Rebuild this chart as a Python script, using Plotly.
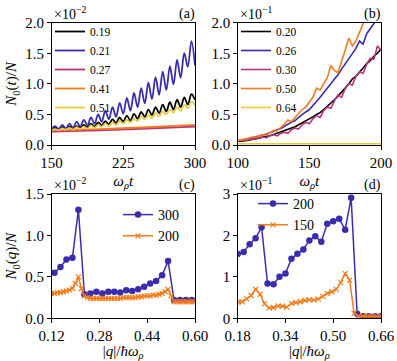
import plotly.graph_objects as go
from plotly.subplots import make_subplots

# ---- panel (a): N0(t)/N  (x1e-2), half-period samples ----
t_a = [150, 153.75, 157.5, 161.25, 165, 168.75, 172.5, 176.25, 180, 183.75,
       187.5, 191.25, 195, 198.75, 202.5, 206.25, 210, 213.75, 217.5, 221.25,
       225, 228.75, 232.5, 236.25, 240, 243.75, 247.5, 251.25, 255, 258.75,
       262.5, 266.25, 270, 273.75, 277.5, 281.25, 285, 288.75, 292.5, 296.25, 300]
a_019 = [0.26, 0.28, 0.26, 0.29, 0.27, 0.30, 0.27, 0.31, 0.28, 0.33,
         0.29, 0.35, 0.30, 0.37, 0.32, 0.39, 0.34, 0.42, 0.36, 0.45,
         0.38, 0.48, 0.40, 0.51, 0.43, 0.54, 0.46, 0.58, 0.49, 0.62,
         0.52, 0.66, 0.55, 0.70, 0.58, 0.74, 0.62, 0.78, 0.66, 0.83, 0.74]
a_021 = [0.27, 0.31, 0.26, 0.33, 0.27, 0.35, 0.28, 0.38, 0.30, 0.41,
         0.32, 0.45, 0.35, 0.50, 0.38, 0.56, 0.42, 0.62, 0.46, 0.69,
         0.51, 0.77, 0.56, 0.85, 0.62, 0.93, 0.68, 1.02, 0.75, 1.11,
         0.82, 1.20, 0.90, 1.29, 0.99, 1.39, 1.10, 1.50, 1.28, 1.70, 1.30]
a_051 = [0.24, 0.26, 0.24, 0.27, 0.25, 0.28, 0.25, 0.29, 0.26, 0.30,
         0.27, 0.32, 0.28, 0.33, 0.30, 0.35, 0.31, 0.37, 0.33, 0.39,
         0.35, 0.41, 0.37, 0.43, 0.39, 0.46, 0.42, 0.49, 0.44, 0.52,
         0.47, 0.55, 0.50, 0.58, 0.53, 0.62, 0.56, 0.66, 0.60, 0.71, 0.65]
t_a_smooth = [150, 200, 250, 300]
a_027 = [0.22, 0.24, 0.27, 0.30]
a_041 = [0.24, 0.26, 0.29, 0.33]

# ---- panel (b): N0(t)/N  (x1e-1) ----
t_b = [100, 102.5, 105, 107.5, 110, 112.5, 115, 117.5, 120, 122.5,
       125, 127.5, 130, 132.5, 135, 137.5, 140, 142.5, 145, 147.5,
       150, 152.5, 155, 157.5, 160, 162.5, 165, 167.5, 170, 172.5,
       175, 177.5, 180, 182.5, 185, 187.5, 190, 192.5, 195, 197.5, 200]
b_020 = [0.06, 0.06, 0.07, 0.08, 0.09, 0.10, 0.11, 0.12, 0.14, 0.15,
         0.17, 0.19, 0.21, 0.23, 0.25, 0.27, 0.30, 0.33, 0.36, 0.39,
         0.42, 0.46, 0.50, 0.53, 0.58, 0.63, 0.68, 0.74, 0.80, 0.86,
         0.93, 1.00, 1.08, 1.12, 1.20, 1.26, 1.33, 1.38, 1.45, 1.50, 1.57]
b_026 = [0.07, 0.08, 0.09, 0.10, 0.12, 0.13, 0.15, 0.16, 0.18, 0.20,
         0.23, 0.25, 0.27, 0.31, 0.34, 0.37, 0.40, 0.45, 0.50, 0.54,
         0.58, 0.64, 0.71, 0.78, 0.85, 0.92, 1.00, 1.08, 1.15, 1.24,
         1.33, 1.42, 1.50, 1.58, 1.70, 1.65, 1.82, 1.90, 1.98, 2.06, 2.15]
b_030 = [0.07, 0.08, 0.07, 0.09, 0.10, 0.09, 0.12, 0.13, 0.12, 0.15,
         0.17, 0.15, 0.19, 0.21, 0.19, 0.25, 0.28, 0.26, 0.33, 0.37,
         0.35, 0.43, 0.48, 0.45, 0.56, 0.62, 0.60, 0.72, 0.82, 0.78,
         0.92, 1.00, 0.98, 1.12, 1.20, 1.17, 1.32, 1.42, 1.40, 1.62, 1.55]
b_050 = [0.07, 0.08, 0.10, 0.11, 0.13, 0.12, 0.15, 0.17, 0.16, 0.20,
         0.24, 0.23, 0.28, 0.34, 0.41, 0.38, 0.45, 0.52, 0.58, 0.62,
         0.70, 0.78, 0.93, 0.90, 1.00, 1.10, 1.30, 1.22, 1.18, 1.35,
         1.55, 1.75, 1.62, 1.70, 1.85, 1.98, 2.08, 2.20, 2.30, 2.40, 2.50]
t_b_flat = [100, 200]
b_064 = [0.02, 0.02]

# ---- panel (c): N0(q)/N  (x1e-2) ----
q_c300 = [0.13, 0.15, 0.17, 0.19, 0.21, 0.23, 0.25, 0.27, 0.29, 0.31,
          0.33, 0.35, 0.37, 0.39, 0.41, 0.43, 0.45, 0.47, 0.49, 0.51,
          0.53, 0.55, 0.57, 0.59]
c_300 = [0.55, 0.62, 0.71, 0.73, 1.31, 0.29, 0.30, 0.32, 0.30, 0.32,
         0.32, 0.31, 0.34, 0.33, 0.35, 0.38, 0.42, 0.45, 0.52, 0.69,
         0.22, 0.22, 0.22, 0.22]
q_c200 = [0.12, 0.13, 0.14, 0.15, 0.16, 0.17, 0.18, 0.19, 0.20, 0.21,
          0.22, 0.23, 0.24, 0.25, 0.26, 0.27, 0.28, 0.29, 0.30, 0.31,
          0.32, 0.33, 0.34, 0.35, 0.36, 0.37, 0.38, 0.39, 0.40, 0.41,
          0.42, 0.43, 0.44, 0.45, 0.46, 0.47, 0.48, 0.49, 0.50, 0.51,
          0.52, 0.53, 0.54, 0.55, 0.56, 0.57, 0.58, 0.59, 0.60]
c_200 = [0.30, 0.30, 0.31, 0.31, 0.32, 0.33, 0.34, 0.36, 0.42, 0.50,
         0.36, 0.27, 0.25, 0.24, 0.24, 0.24, 0.24, 0.24, 0.24, 0.24,
         0.24, 0.24, 0.24, 0.24, 0.25, 0.25, 0.25, 0.25, 0.25, 0.26,
         0.26, 0.27, 0.27, 0.27, 0.28, 0.28, 0.29, 0.30, 0.32, 0.35,
         0.27, 0.20, 0.20, 0.20, 0.20, 0.20, 0.20, 0.20, 0.20]

# ---- panel (d): N0(q)/N  (x1e-1) ----
q_d200 = [0.18, 0.20, 0.22, 0.24, 0.26, 0.28, 0.30, 0.32, 0.34, 0.36,
          0.38, 0.40, 0.42, 0.44, 0.46, 0.48, 0.50, 0.52, 0.54, 0.56,
          0.58, 0.60, 0.62, 0.64, 0.66]
d_200 = [1.55, 1.60, 1.79, 1.93, 2.20, 0.84, 0.82, 1.00, 1.08, 1.44,
         1.56, 1.66, 1.88, 1.98, 1.85, 2.28, 2.34, 2.40, 2.14, 2.91,
         0.11, 0.05, 0.05, 0.05, 0.05]
q_d150 = [0.180, 0.195, 0.210, 0.225, 0.240, 0.255, 0.270, 0.285, 0.300, 0.315,
          0.330, 0.345, 0.360, 0.375, 0.390, 0.405, 0.420, 0.435, 0.450, 0.465,
          0.480, 0.495, 0.510, 0.525, 0.540, 0.555, 0.570, 0.585, 0.600, 0.615,
          0.630, 0.645, 0.660]
d_150 = [0.39, 0.40, 0.47, 0.55, 0.70, 0.58, 0.35, 0.25, 0.26, 0.30,
         0.29, 0.27, 0.36, 0.38, 0.40, 0.43, 0.45, 0.44, 0.47, 0.53,
         0.60, 0.64, 0.70, 0.86, 1.08, 0.92, 0.12, 0.05, 0.05, 0.05,
         0.05, 0.05, 0.05]

BLACK = '#000000'
BLUE = '#3a2cae'
PINK = '#b8327c'
ORANGE = '#f47a1a'
YELLOW = '#e6cb40'
FONT = 'Liberation Serif'

fig = make_subplots(rows=2, cols=2)

for x, y, name, col in [(t_a, a_019, '0.19', BLACK), (t_a, a_021, '0.21', BLUE),
                        (t_a_smooth, a_027, '0.27', PINK), (t_a_smooth, a_041, '0.41', ORANGE),
                        (t_a, a_051, '0.51', YELLOW)]:
    fig.add_trace(go.Scatter(x=x, y=y, name=name, mode='lines', line_shape='spline',
                             line=dict(color=col, width=1.8), legend='legend'), row=1, col=1)

for x, y, name, col in [(t_b, b_020, '0.20', BLACK), (t_b, b_026, '0.26', BLUE),
                        (t_b, b_030, '0.30', PINK), (t_b, b_050, '0.50', ORANGE),
                        (t_b_flat, b_064, '0.64', YELLOW)]:
    fig.add_trace(go.Scatter(x=x, y=y, name=name, mode='lines',
                             line=dict(color=col, width=1.6), legend='legend2'), row=1, col=2)

fig.add_trace(go.Scatter(x=q_c300, y=c_300, name='300', mode='lines+markers',
                         line=dict(color=BLUE, width=1.5), marker=dict(size=6.5, color=BLUE),
                         legend='legend3'), row=2, col=1)
fig.add_trace(go.Scatter(x=q_c200, y=c_200, name='200', mode='lines+markers',
                         line=dict(color=ORANGE, width=1.5),
                         marker=dict(symbol='x-thin', size=5, line=dict(color=ORANGE, width=1.2)),
                         legend='legend3'), row=2, col=1)
fig.add_trace(go.Scatter(x=q_d200, y=d_200, name='200', mode='lines+markers',
                         line=dict(color=BLUE, width=1.5), marker=dict(size=6.5, color=BLUE),
                         legend='legend4'), row=2, col=2)
fig.add_trace(go.Scatter(x=q_d150, y=d_150, name='150', mode='lines+markers',
                         line=dict(color=ORANGE, width=1.5),
                         marker=dict(symbol='x-thin', size=5, line=dict(color=ORANGE, width=1.2)),
                         legend='legend4'), row=2, col=2)

W, H = 397, 361
xa = (51.5 / W, 195 / W)
xb = (237.7 / W, 381 / W)
ytop = (1 - 145 / H, 1 - 22.7 / H)
ybot = (1 - 318.3 / H, 1 - 194 / H)

axis_style = dict(showline=True, linecolor='black', linewidth=1, mirror=True,
                  ticks='outside', ticklen=3.5, tickwidth=1, tickcolor='black',
                  showgrid=False, zeroline=False, automargin=False,
                  tickfont=dict(family=FONT, size=15, color='black'))

fig.update_xaxes(**axis_style)
fig.update_yaxes(**axis_style)

wt = '<i>ω</i><sub><i>ρ</i></sub><i>t</i>'
qlab = '|<i>q</i>|/<i>ħω</i><sub><i>ρ</i></sub>'
tfont = dict(family=FONT, size=15, color='black')

fig.update_xaxes(domain=xa, range=[150, 300], tickvals=[150, 225, 300],
                 title=dict(text=wt, font=tfont, standoff=5), row=1, col=1)
fig.update_xaxes(domain=xb, range=[100, 200], tickvals=[100, 150, 200],
                 title=dict(text=wt, font=tfont, standoff=5), row=1, col=2)
fig.update_xaxes(domain=xa, range=[0.12, 0.60], tickvals=[0.12, 0.28, 0.44, 0.60],
                 tickformat='.2f', title=dict(text=qlab, font=tfont, standoff=5), row=2, col=1)
fig.update_xaxes(domain=xb, range=[0.18, 0.66], tickvals=[0.18, 0.34, 0.50, 0.66],
                 tickformat='.2f', title=dict(text=qlab, font=tfont, standoff=5), row=2, col=2)

fig.update_yaxes(domain=ytop, range=[0, 2.0], tickvals=[0, 0.5, 1.0, 1.5, 2.0], tickformat='.1f',
                 title=dict(text='<i>N</i><sub>0</sub>(<i>t</i>)/<i>N</i>', font=tfont, standoff=4),
                 row=1, col=1)
fig.update_yaxes(domain=ytop, range=[0, 2.0], tickvals=[0, 0.5, 1.0, 1.5, 2.0], tickformat='.1f',
                 row=1, col=2)
fig.update_yaxes(domain=ybot, range=[0, 1.5], tickvals=[0, 0.5, 1.0, 1.5], tickformat='.1f',
                 title=dict(text='<i>N</i><sub>0</sub>(<i>q</i>)/<i>N</i>', font=tfont, standoff=4),
                 row=2, col=1)
fig.update_yaxes(domain=ybot, range=[0, 3], tickvals=[0, 1, 2, 3], row=2, col=2)

leg_common = dict(bgcolor='rgba(0,0,0,0)', borderwidth=0, xanchor='left', yanchor='top',
                  tracegroupgap=0)
fig.update_layout(
    width=W, height=H,
    margin=dict(l=0, r=0, t=0, b=0),
    paper_bgcolor='white', plot_bgcolor='white',
    font=dict(family=FONT, color='black'),
    showlegend=True,
    legend=dict(x=50 / W, y=1 - 17 / H, font=dict(family=FONT, size=11.5), **leg_common),
    legend2=dict(x=236 / W, y=1 - 17 / H, font=dict(family=FONT, size=11.5), **leg_common),
    legend3=dict(x=118 / W, y=1 - 199 / H, font=dict(family=FONT, size=14), **leg_common),
    legend4=dict(x=253 / W, y=1 - 188 / H, font=dict(family=FONT, size=14), **leg_common),
)

annots = [
    (xa[0], ytop[1], '×10<sup>−2</sup>', 'left'),
    (xb[0], ytop[1], '×10<sup>−1</sup>', 'left'),
    (xa[0], ybot[1], '×10<sup>−2</sup>', 'left'),
    (xb[0], ybot[1], '×10<sup>−1</sup>', 'left'),
    (xa[1] + 2 / W, ytop[1], '(a)', 'right'),
    (xb[1] + 2 / W, ytop[1], '(b)', 'right'),
    (xa[1] + 2 / W, ybot[1], '(c)', 'right'),
    (xb[1] + 2 / W, ybot[1], '(d)', 'right'),
]
for x, y, text, anchor in annots:
    fig.add_annotation(x=x, y=y, xref='paper', yref='paper', text=text, showarrow=False,
                       xanchor=anchor, yanchor='bottom', yshift=-1,
                       font=dict(family=FONT, size=14, color='black'))

# drop the browser's default body margin so the figure sits at the page corner
fig.write_html("out.html", config={'displayModeBar': False},
               post_script="document.body.style.margin='0px';")
